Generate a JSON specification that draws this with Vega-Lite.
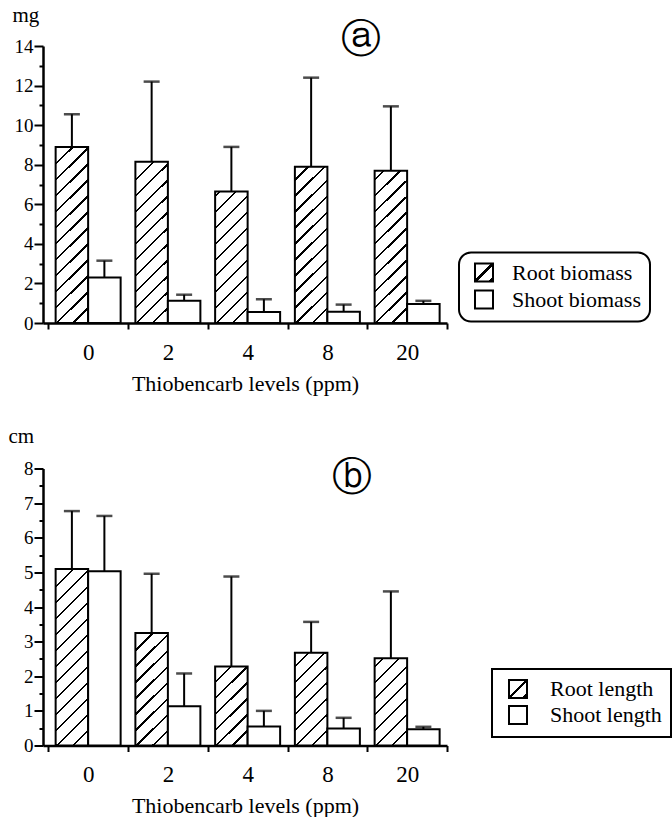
{
  "$schema": "https://vega.github.io/schema/vega-lite/v6.json",
  "padding": {"left": 8, "top": 4, "right": 0, "bottom": 0},
  "spacing": 30.5,
  "background": "white",
  "datasets": {
    "a": [
      {"level": "0", "series": "Root biomass", "mean": 8.9, "upper": 10.55},
      {"level": "0", "series": "Shoot biomass", "mean": 2.3, "upper": 3.15},
      {"level": "2", "series": "Root biomass", "mean": 8.15, "upper": 12.2},
      {"level": "2", "series": "Shoot biomass", "mean": 1.13, "upper": 1.43},
      {"level": "4", "series": "Root biomass", "mean": 6.65, "upper": 8.9},
      {"level": "4", "series": "Shoot biomass", "mean": 0.55, "upper": 1.2},
      {"level": "8", "series": "Root biomass", "mean": 7.9, "upper": 12.4},
      {"level": "8", "series": "Shoot biomass", "mean": 0.57, "upper": 0.93},
      {"level": "20", "series": "Root biomass", "mean": 7.7, "upper": 10.95},
      {"level": "20", "series": "Shoot biomass", "mean": 0.96, "upper": 1.12}
    ],
    "b": [
      {"level": "0", "series": "Root length", "mean": 5.1, "upper": 6.77},
      {"level": "0", "series": "Shoot length", "mean": 5.03, "upper": 6.63},
      {"level": "2", "series": "Root length", "mean": 3.25, "upper": 4.96},
      {"level": "2", "series": "Shoot length", "mean": 1.13, "upper": 2.08},
      {"level": "4", "series": "Root length", "mean": 2.28, "upper": 4.88},
      {"level": "4", "series": "Shoot length", "mean": 0.55, "upper": 1.0},
      {"level": "8", "series": "Root length", "mean": 2.68, "upper": 3.57},
      {"level": "8", "series": "Shoot length", "mean": 0.49, "upper": 0.8},
      {"level": "20", "series": "Root length", "mean": 2.52, "upper": 4.45},
      {"level": "20", "series": "Shoot length", "mean": 0.47, "upper": 0.54}
    ]
  },
  "vconcat": [
    {
      "width": 404,
      "height": 277,
      "data": {"name": "a"},
      "encoding": {
        "xOffset": {"field": "series", "type": "nominal", "scale": {"domain": ["Root biomass", "Shoot biomass"], "paddingInner": 0, "paddingOuter": 0.227}},
        "y": {"field": "mean", "type": "quantitative", "scale": {"domain": [0, 14], "nice": false},
          "axis": {"values": [0,1,2,3,4,5,6,7,8,9,10,11,12,13,14], "labelExpr": "datum.value % 2 === 0 ? format(datum.value, 'd') : ''",
            "tickSize": {"condition": {"test": "datum.value % 2 !== 0", "value": 4}, "value": 9},
            "labelFontSize": 19, "labelPadding": 1, "title": "mg", "titleAngle": 0, "titleAlign": "left", "titleBaseline": "alphabetic", "titleX": -31, "titleY": -24.5, "titleFontSize": 21}}
      },
      "layer": [
        {
          "mark": {"type": "bar", "stroke": "black", "strokeWidth": 2},
          "encoding": {
            "x": {"field": "level", "type": "nominal", "scale": {"domain": ["0", "2", "4", "8", "20"], "paddingInner": 0, "paddingOuter": 0.033, "align": 1},
              "axis": {"title": "Thiobencarb levels (ppm)", "labelAngle": 0, "labelFontSize": 23, "labelPadding": 12, "tickBand": "extent", "tickSize": 6, "titleFontSize": 22, "titleBaseline": "alphabetic", "titleY": 67}},
            "fill": {"condition": [
              {"test": "datum.series === 'Root biomass' && datum.level === '0'", "value": {"gradient": "linear", "x1": 0, "y1": 0, "x2": 0.2079, "y2": 1.1439, "stops": [
                {"offset": 0, "color": "#fff"},
                {"offset": 0.0767, "color": "#fff"}, {"offset": 0.0767, "color": "#000"}, {"offset": 0.0877, "color": "#000"}, {"offset": 0.0877, "color": "#fff"},
                {"offset": 0.1536, "color": "#fff"}, {"offset": 0.1536, "color": "#000"}, {"offset": 0.1646, "color": "#000"}, {"offset": 0.1646, "color": "#fff"},
                {"offset": 0.2304, "color": "#fff"}, {"offset": 0.2304, "color": "#000"}, {"offset": 0.2414, "color": "#000"}, {"offset": 0.2414, "color": "#fff"},
                {"offset": 0.3073, "color": "#fff"}, {"offset": 0.3073, "color": "#000"}, {"offset": 0.3183, "color": "#000"}, {"offset": 0.3183, "color": "#fff"},
                {"offset": 0.3842, "color": "#fff"}, {"offset": 0.3842, "color": "#000"}, {"offset": 0.3952, "color": "#000"}, {"offset": 0.3952, "color": "#fff"},
                {"offset": 0.4611, "color": "#fff"}, {"offset": 0.4611, "color": "#000"}, {"offset": 0.4721, "color": "#000"}, {"offset": 0.4721, "color": "#fff"},
                {"offset": 0.538, "color": "#fff"}, {"offset": 0.538, "color": "#000"}, {"offset": 0.549, "color": "#000"}, {"offset": 0.549, "color": "#fff"},
                {"offset": 0.6149, "color": "#fff"}, {"offset": 0.6149, "color": "#000"}, {"offset": 0.6259, "color": "#000"}, {"offset": 0.6259, "color": "#fff"},
                {"offset": 0.6918, "color": "#fff"}, {"offset": 0.6918, "color": "#000"}, {"offset": 0.7028, "color": "#000"}, {"offset": 0.7028, "color": "#fff"},
                {"offset": 0.7686, "color": "#fff"}, {"offset": 0.7686, "color": "#000"}, {"offset": 0.7796, "color": "#000"}, {"offset": 0.7796, "color": "#fff"},
                {"offset": 0.8455, "color": "#fff"}, {"offset": 0.8455, "color": "#000"}, {"offset": 0.8565, "color": "#000"}, {"offset": 0.8565, "color": "#fff"},
                {"offset": 0.9224, "color": "#fff"}, {"offset": 0.9224, "color": "#000"}, {"offset": 0.9334, "color": "#000"}, {"offset": 0.9334, "color": "#fff"},
                {"offset": 1, "color": "#fff"}]}},
              {"test": "datum.series === 'Root biomass' && datum.level === '2'", "value": {"gradient": "linear", "x1": 0, "y1": 0, "x2": 0.2287, "y2": 1.153, "stops": [
                {"offset": 0, "color": "#fff"},
                {"offset": 0.0887, "color": "#fff"}, {"offset": 0.0887, "color": "#000"}, {"offset": 0.1007, "color": "#000"}, {"offset": 0.1007, "color": "#fff"},
                {"offset": 0.1714, "color": "#fff"}, {"offset": 0.1714, "color": "#000"}, {"offset": 0.1834, "color": "#000"}, {"offset": 0.1834, "color": "#fff"},
                {"offset": 0.2542, "color": "#fff"}, {"offset": 0.2542, "color": "#000"}, {"offset": 0.2662, "color": "#000"}, {"offset": 0.2662, "color": "#fff"},
                {"offset": 0.337, "color": "#fff"}, {"offset": 0.337, "color": "#000"}, {"offset": 0.349, "color": "#000"}, {"offset": 0.349, "color": "#fff"},
                {"offset": 0.4198, "color": "#fff"}, {"offset": 0.4198, "color": "#000"}, {"offset": 0.4318, "color": "#000"}, {"offset": 0.4318, "color": "#fff"},
                {"offset": 0.5025, "color": "#fff"}, {"offset": 0.5025, "color": "#000"}, {"offset": 0.5145, "color": "#000"}, {"offset": 0.5145, "color": "#fff"},
                {"offset": 0.5853, "color": "#fff"}, {"offset": 0.5853, "color": "#000"}, {"offset": 0.5973, "color": "#000"}, {"offset": 0.5973, "color": "#fff"},
                {"offset": 0.6681, "color": "#fff"}, {"offset": 0.6681, "color": "#000"}, {"offset": 0.6801, "color": "#000"}, {"offset": 0.6801, "color": "#fff"},
                {"offset": 0.7509, "color": "#fff"}, {"offset": 0.7509, "color": "#000"}, {"offset": 0.7629, "color": "#000"}, {"offset": 0.7629, "color": "#fff"},
                {"offset": 0.8336, "color": "#fff"}, {"offset": 0.8336, "color": "#000"}, {"offset": 0.8456, "color": "#000"}, {"offset": 0.8456, "color": "#fff"},
                {"offset": 0.9164, "color": "#fff"}, {"offset": 0.9164, "color": "#000"}, {"offset": 0.9284, "color": "#000"}, {"offset": 0.9284, "color": "#fff"},
                {"offset": 1, "color": "#fff"}]}},
              {"test": "datum.series === 'Root biomass' && datum.level === '4'", "value": {"gradient": "linear", "x1": 0, "y1": 0, "x2": 0.2854, "y2": 1.1738, "stops": [
                {"offset": 0, "color": "#fff"},
                {"offset": 0.0211, "color": "#fff"}, {"offset": 0.0211, "color": "#000"}, {"offset": 0.0351, "color": "#000"}, {"offset": 0.0351, "color": "#fff"},
                {"offset": 0.1189, "color": "#fff"}, {"offset": 0.1189, "color": "#000"}, {"offset": 0.1329, "color": "#000"}, {"offset": 0.1329, "color": "#fff"},
                {"offset": 0.2167, "color": "#fff"}, {"offset": 0.2167, "color": "#000"}, {"offset": 0.2307, "color": "#000"}, {"offset": 0.2307, "color": "#fff"},
                {"offset": 0.3145, "color": "#fff"}, {"offset": 0.3145, "color": "#000"}, {"offset": 0.3285, "color": "#000"}, {"offset": 0.3285, "color": "#fff"},
                {"offset": 0.4123, "color": "#fff"}, {"offset": 0.4123, "color": "#000"}, {"offset": 0.4263, "color": "#000"}, {"offset": 0.4263, "color": "#fff"},
                {"offset": 0.5101, "color": "#fff"}, {"offset": 0.5101, "color": "#000"}, {"offset": 0.5241, "color": "#000"}, {"offset": 0.5241, "color": "#fff"},
                {"offset": 0.6079, "color": "#fff"}, {"offset": 0.6079, "color": "#000"}, {"offset": 0.6219, "color": "#000"}, {"offset": 0.6219, "color": "#fff"},
                {"offset": 0.7057, "color": "#fff"}, {"offset": 0.7057, "color": "#000"}, {"offset": 0.7197, "color": "#000"}, {"offset": 0.7197, "color": "#fff"},
                {"offset": 0.8035, "color": "#fff"}, {"offset": 0.8035, "color": "#000"}, {"offset": 0.8175, "color": "#000"}, {"offset": 0.8175, "color": "#fff"},
                {"offset": 0.9013, "color": "#fff"}, {"offset": 0.9013, "color": "#000"}, {"offset": 0.9153, "color": "#000"}, {"offset": 0.9153, "color": "#fff"},
                {"offset": 1, "color": "#fff"}]}},
              {"test": "datum.series === 'Root biomass' && datum.level === '8'", "value": {"gradient": "linear", "x1": 0, "y1": 0, "x2": 0.2367, "y2": 1.1563, "stops": [
                {"offset": 0, "color": "#fff"},
                {"offset": 0.0645, "color": "#fff"}, {"offset": 0.0645, "color": "#000"}, {"offset": 0.0767, "color": "#000"}, {"offset": 0.0767, "color": "#fff"},
                {"offset": 0.1495, "color": "#fff"}, {"offset": 0.1495, "color": "#000"}, {"offset": 0.1617, "color": "#000"}, {"offset": 0.1617, "color": "#fff"},
                {"offset": 0.2345, "color": "#fff"}, {"offset": 0.2345, "color": "#000"}, {"offset": 0.2467, "color": "#000"}, {"offset": 0.2467, "color": "#fff"},
                {"offset": 0.3194, "color": "#fff"}, {"offset": 0.3194, "color": "#000"}, {"offset": 0.3316, "color": "#000"}, {"offset": 0.3316, "color": "#fff"},
                {"offset": 0.4044, "color": "#fff"}, {"offset": 0.4044, "color": "#000"}, {"offset": 0.4166, "color": "#000"}, {"offset": 0.4166, "color": "#fff"},
                {"offset": 0.4894, "color": "#fff"}, {"offset": 0.4894, "color": "#000"}, {"offset": 0.5016, "color": "#000"}, {"offset": 0.5016, "color": "#fff"},
                {"offset": 0.5744, "color": "#fff"}, {"offset": 0.5744, "color": "#000"}, {"offset": 0.5866, "color": "#000"}, {"offset": 0.5866, "color": "#fff"},
                {"offset": 0.6593, "color": "#fff"}, {"offset": 0.6593, "color": "#000"}, {"offset": 0.6715, "color": "#000"}, {"offset": 0.6715, "color": "#fff"},
                {"offset": 0.7443, "color": "#fff"}, {"offset": 0.7443, "color": "#000"}, {"offset": 0.7565, "color": "#000"}, {"offset": 0.7565, "color": "#fff"},
                {"offset": 0.8293, "color": "#fff"}, {"offset": 0.8293, "color": "#000"}, {"offset": 0.8415, "color": "#000"}, {"offset": 0.8415, "color": "#fff"},
                {"offset": 0.9142, "color": "#fff"}, {"offset": 0.9142, "color": "#000"}, {"offset": 0.9264, "color": "#000"}, {"offset": 0.9264, "color": "#fff"},
                {"offset": 1, "color": "#fff"}]}},
              {"test": "datum.series === 'Root biomass' && datum.level === '20'", "value": {"gradient": "linear", "x1": 0, "y1": 0, "x2": 0.2433, "y2": 1.1589, "stops": [
                {"offset": 0, "color": "#fff"},
                {"offset": 0.0448, "color": "#fff"}, {"offset": 0.0448, "color": "#000"}, {"offset": 0.0572, "color": "#000"}, {"offset": 0.0572, "color": "#fff"},
                {"offset": 0.1315, "color": "#fff"}, {"offset": 0.1315, "color": "#000"}, {"offset": 0.1439, "color": "#000"}, {"offset": 0.1439, "color": "#fff"},
                {"offset": 0.2183, "color": "#fff"}, {"offset": 0.2183, "color": "#000"}, {"offset": 0.2307, "color": "#000"}, {"offset": 0.2307, "color": "#fff"},
                {"offset": 0.3051, "color": "#fff"}, {"offset": 0.3051, "color": "#000"}, {"offset": 0.3175, "color": "#000"}, {"offset": 0.3175, "color": "#fff"},
                {"offset": 0.3918, "color": "#fff"}, {"offset": 0.3918, "color": "#000"}, {"offset": 0.4042, "color": "#000"}, {"offset": 0.4042, "color": "#fff"},
                {"offset": 0.4786, "color": "#fff"}, {"offset": 0.4786, "color": "#000"}, {"offset": 0.491, "color": "#000"}, {"offset": 0.491, "color": "#fff"},
                {"offset": 0.5654, "color": "#fff"}, {"offset": 0.5654, "color": "#000"}, {"offset": 0.5778, "color": "#000"}, {"offset": 0.5778, "color": "#fff"},
                {"offset": 0.6522, "color": "#fff"}, {"offset": 0.6522, "color": "#000"}, {"offset": 0.6646, "color": "#000"}, {"offset": 0.6646, "color": "#fff"},
                {"offset": 0.7389, "color": "#fff"}, {"offset": 0.7389, "color": "#000"}, {"offset": 0.7513, "color": "#000"}, {"offset": 0.7513, "color": "#fff"},
                {"offset": 0.8257, "color": "#fff"}, {"offset": 0.8257, "color": "#000"}, {"offset": 0.8381, "color": "#000"}, {"offset": 0.8381, "color": "#fff"},
                {"offset": 0.9125, "color": "#fff"}, {"offset": 0.9125, "color": "#000"}, {"offset": 0.9249, "color": "#000"}, {"offset": 0.9249, "color": "#fff"},
                {"offset": 1, "color": "#fff"}]}}
            ],
              "field": "series", "type": "nominal",
              "scale": {"domain": ["Root biomass", "Shoot biomass"], "range": [{"expr": "{gradient: 'linear', x1: 0, y1: 0, x2: 1, y2: 1, stops: [{offset: 0, color: '#fff'}, {offset: 0.45, color: '#fff'}, {offset: 0.45, color: '#000'}, {offset: 0.55, color: '#000'}, {offset: 0.55, color: '#fff'}, {offset: 0.86, color: '#fff'}, {offset: 0.86, color: '#000'}, {offset: 1, color: '#000'}]}"}, "white"]},
              "legend": {"title": null, "orient": "none", "legendX": 416, "legendY": 206.5, "symbolType": "square", "symbolSize": 324, "symbolStrokeWidth": 2, "symbolStrokeColor": "black", "symbolOffset": 5,
                "labelFontSize": 22, "labelColor": "black", "labelOffset": 17, "padding": 9, "rowPadding": 1,
                "strokeColor": "black", "cornerRadius": 12,
                "encode": {"legend": {"update": {"strokeWidth": {"value": 2}}}}}
            }
          }
        },
        {
          "mark": {"type": "rule", "color": "black", "strokeWidth": 2},
          "encoding": {
            "x": {"field": "level", "type": "nominal", "axis": null},
            "y2": {"field": "upper"}
          }
        },
        {
          "mark": {"type": "tick", "color": "black", "thickness": 2.5, "size": 16},
          "encoding": {
            "x": {"field": "level", "type": "nominal",
              "axis": {"orient": "top", "domain": false, "ticks": false, "labels": false, "title": "ⓐ", "titleFont": "DejaVu Sans", "titleFontSize": 40, "titleFontWeight": "normal", "titleAngle": 0, "titleAlign": "center", "titleBaseline": "middle", "titleX": 317, "titleY": -7}},
            "y": {"field": "upper", "type": "quantitative"}
          }
        }
      ],
      "resolve": {"axis": {"x": "independent"}}
    },
    {
      "width": 404,
      "height": 277,
      "data": {"name": "b"},
      "encoding": {
        "xOffset": {"field": "series", "type": "nominal", "scale": {"domain": ["Root length", "Shoot length"], "paddingInner": 0, "paddingOuter": 0.227}},
        "y": {"field": "mean", "type": "quantitative", "scale": {"domain": [0, 8], "nice": false},
          "axis": {"values": [0,0.5,1,1.5,2,2.5,3,3.5,4,4.5,5,5.5,6,6.5,7,7.5,8], "labelExpr": "datum.value % 1 === 0 ? format(datum.value, 'd') : ''",
            "tickSize": {"condition": {"test": "datum.value % 1 !== 0", "value": 4}, "value": 9},
            "labelFontSize": 19, "labelPadding": 1, "title": "cm", "titleAngle": 0, "titleAlign": "left", "titleBaseline": "alphabetic", "titleX": -35, "titleY": -26.5, "titleFontSize": 21}}
      },
      "layer": [
        {
          "mark": {"type": "bar", "stroke": "black", "strokeWidth": 2},
          "encoding": {
            "x": {"field": "level", "type": "nominal", "scale": {"domain": ["0", "2", "4", "8", "20"], "paddingInner": 0, "paddingOuter": 0.033, "align": 1},
              "axis": {"title": "Thiobencarb levels (ppm)", "labelAngle": 0, "labelFontSize": 23, "labelPadding": 12, "tickBand": "extent", "tickSize": 6, "titleFontSize": 22, "titleBaseline": "alphabetic", "titleY": 67}},
            "fill": {"condition": [
              {"test": "datum.series === 'Root length' && datum.level === '0'", "value": {"gradient": "linear", "x1": 0, "y1": 0, "x2": 0.2072, "y2": 1.1436, "stops": [
                {"offset": 0, "color": "#fff"},
                {"offset": 0.0789, "color": "#fff"}, {"offset": 0.0789, "color": "#000"}, {"offset": 0.0899, "color": "#000"}, {"offset": 0.0899, "color": "#fff"},
                {"offset": 0.1556, "color": "#fff"}, {"offset": 0.1556, "color": "#000"}, {"offset": 0.1666, "color": "#000"}, {"offset": 0.1666, "color": "#fff"},
                {"offset": 0.2323, "color": "#fff"}, {"offset": 0.2323, "color": "#000"}, {"offset": 0.2433, "color": "#000"}, {"offset": 0.2433, "color": "#fff"},
                {"offset": 0.309, "color": "#fff"}, {"offset": 0.309, "color": "#000"}, {"offset": 0.32, "color": "#000"}, {"offset": 0.32, "color": "#fff"},
                {"offset": 0.3857, "color": "#fff"}, {"offset": 0.3857, "color": "#000"}, {"offset": 0.3967, "color": "#000"}, {"offset": 0.3967, "color": "#fff"},
                {"offset": 0.4624, "color": "#fff"}, {"offset": 0.4624, "color": "#000"}, {"offset": 0.4734, "color": "#000"}, {"offset": 0.4734, "color": "#fff"},
                {"offset": 0.5391, "color": "#fff"}, {"offset": 0.5391, "color": "#000"}, {"offset": 0.5501, "color": "#000"}, {"offset": 0.5501, "color": "#fff"},
                {"offset": 0.6158, "color": "#fff"}, {"offset": 0.6158, "color": "#000"}, {"offset": 0.6268, "color": "#000"}, {"offset": 0.6268, "color": "#fff"},
                {"offset": 0.6925, "color": "#fff"}, {"offset": 0.6925, "color": "#000"}, {"offset": 0.7035, "color": "#000"}, {"offset": 0.7035, "color": "#fff"},
                {"offset": 0.7692, "color": "#fff"}, {"offset": 0.7692, "color": "#000"}, {"offset": 0.7802, "color": "#000"}, {"offset": 0.7802, "color": "#fff"},
                {"offset": 0.8459, "color": "#fff"}, {"offset": 0.8459, "color": "#000"}, {"offset": 0.8569, "color": "#000"}, {"offset": 0.8569, "color": "#fff"},
                {"offset": 0.9226, "color": "#fff"}, {"offset": 0.9226, "color": "#000"}, {"offset": 0.9336, "color": "#000"}, {"offset": 0.9336, "color": "#fff"},
                {"offset": 1, "color": "#fff"}]}},
              {"test": "datum.series === 'Root length' && datum.level === '2'", "value": {"gradient": "linear", "x1": 0, "y1": 0, "x2": 0.338, "y2": 1.1883, "stops": [
                {"offset": 0, "color": "#fff"},
                {"offset": 0.1131, "color": "#fff"}, {"offset": 0.1131, "color": "#000"}, {"offset": 0.1291, "color": "#000"}, {"offset": 0.1291, "color": "#fff"},
                {"offset": 0.2238, "color": "#fff"}, {"offset": 0.2238, "color": "#000"}, {"offset": 0.2398, "color": "#000"}, {"offset": 0.2398, "color": "#fff"},
                {"offset": 0.3346, "color": "#fff"}, {"offset": 0.3346, "color": "#000"}, {"offset": 0.3506, "color": "#000"}, {"offset": 0.3506, "color": "#fff"},
                {"offset": 0.4453, "color": "#fff"}, {"offset": 0.4453, "color": "#000"}, {"offset": 0.4613, "color": "#000"}, {"offset": 0.4613, "color": "#fff"},
                {"offset": 0.556, "color": "#fff"}, {"offset": 0.556, "color": "#000"}, {"offset": 0.572, "color": "#000"}, {"offset": 0.572, "color": "#fff"},
                {"offset": 0.6667, "color": "#fff"}, {"offset": 0.6667, "color": "#000"}, {"offset": 0.6827, "color": "#000"}, {"offset": 0.6827, "color": "#fff"},
                {"offset": 0.7775, "color": "#fff"}, {"offset": 0.7775, "color": "#000"}, {"offset": 0.7935, "color": "#000"}, {"offset": 0.7935, "color": "#fff"},
                {"offset": 0.8882, "color": "#fff"}, {"offset": 0.8882, "color": "#000"}, {"offset": 0.9042, "color": "#000"}, {"offset": 0.9042, "color": "#fff"},
                {"offset": 1, "color": "#fff"}]}},
              {"test": "datum.series === 'Root length' && datum.level === '4'", "value": {"gradient": "linear", "x1": 0, "y1": 0, "x2": 0.4895, "y2": 1.207, "stops": [
                {"offset": 0, "color": "#fff"},
                {"offset": 0.133, "color": "#fff"}, {"offset": 0.133, "color": "#000"}, {"offset": 0.1538, "color": "#000"}, {"offset": 0.1538, "color": "#fff"},
                {"offset": 0.2772, "color": "#fff"}, {"offset": 0.2772, "color": "#000"}, {"offset": 0.298, "color": "#000"}, {"offset": 0.298, "color": "#fff"},
                {"offset": 0.4215, "color": "#fff"}, {"offset": 0.4215, "color": "#000"}, {"offset": 0.4423, "color": "#000"}, {"offset": 0.4423, "color": "#fff"},
                {"offset": 0.5658, "color": "#fff"}, {"offset": 0.5658, "color": "#000"}, {"offset": 0.5866, "color": "#000"}, {"offset": 0.5866, "color": "#fff"},
                {"offset": 0.7101, "color": "#fff"}, {"offset": 0.7101, "color": "#000"}, {"offset": 0.7309, "color": "#000"}, {"offset": 0.7309, "color": "#fff"},
                {"offset": 0.8543, "color": "#fff"}, {"offset": 0.8543, "color": "#000"}, {"offset": 0.8751, "color": "#000"}, {"offset": 0.8751, "color": "#fff"},
                {"offset": 1, "color": "#fff"}]}},
              {"test": "datum.series === 'Root length' && datum.level === '8'", "value": {"gradient": "linear", "x1": 0, "y1": 0, "x2": 0.4145, "y2": 1.2019, "stops": [
                {"offset": 0, "color": "#fff"},
                {"offset": 0.1014, "color": "#fff"}, {"offset": 0.1014, "color": "#000"}, {"offset": 0.1198, "color": "#000"}, {"offset": 0.1198, "color": "#fff"},
                {"offset": 0.2296, "color": "#fff"}, {"offset": 0.2296, "color": "#000"}, {"offset": 0.248, "color": "#000"}, {"offset": 0.248, "color": "#fff"},
                {"offset": 0.3578, "color": "#fff"}, {"offset": 0.3578, "color": "#000"}, {"offset": 0.3762, "color": "#000"}, {"offset": 0.3762, "color": "#fff"},
                {"offset": 0.486, "color": "#fff"}, {"offset": 0.486, "color": "#000"}, {"offset": 0.5044, "color": "#000"}, {"offset": 0.5044, "color": "#fff"},
                {"offset": 0.6142, "color": "#fff"}, {"offset": 0.6142, "color": "#000"}, {"offset": 0.6326, "color": "#000"}, {"offset": 0.6326, "color": "#fff"},
                {"offset": 0.7424, "color": "#fff"}, {"offset": 0.7424, "color": "#000"}, {"offset": 0.7608, "color": "#000"}, {"offset": 0.7608, "color": "#fff"},
                {"offset": 0.8706, "color": "#fff"}, {"offset": 0.8706, "color": "#000"}, {"offset": 0.889, "color": "#000"}, {"offset": 0.889, "color": "#fff"},
                {"offset": 1, "color": "#fff"}]}},
              {"test": "datum.series === 'Root length' && datum.level === '20'", "value": {"gradient": "linear", "x1": 0, "y1": 0, "x2": 0.4416, "y2": 1.2047, "stops": [
                {"offset": 0, "color": "#fff"},
                {"offset": 0.06, "color": "#fff"}, {"offset": 0.06, "color": "#000"}, {"offset": 0.0792, "color": "#000"}, {"offset": 0.0792, "color": "#fff"},
                {"offset": 0.1941, "color": "#fff"}, {"offset": 0.1941, "color": "#000"}, {"offset": 0.2133, "color": "#000"}, {"offset": 0.2133, "color": "#fff"},
                {"offset": 0.3282, "color": "#fff"}, {"offset": 0.3282, "color": "#000"}, {"offset": 0.3474, "color": "#000"}, {"offset": 0.3474, "color": "#fff"},
                {"offset": 0.4623, "color": "#fff"}, {"offset": 0.4623, "color": "#000"}, {"offset": 0.4815, "color": "#000"}, {"offset": 0.4815, "color": "#fff"},
                {"offset": 0.5964, "color": "#fff"}, {"offset": 0.5964, "color": "#000"}, {"offset": 0.6156, "color": "#000"}, {"offset": 0.6156, "color": "#fff"},
                {"offset": 0.7306, "color": "#fff"}, {"offset": 0.7306, "color": "#000"}, {"offset": 0.7498, "color": "#000"}, {"offset": 0.7498, "color": "#fff"},
                {"offset": 0.8647, "color": "#fff"}, {"offset": 0.8647, "color": "#000"}, {"offset": 0.8839, "color": "#000"}, {"offset": 0.8839, "color": "#fff"},
                {"offset": 1, "color": "#fff"}]}}
            ],
              "field": "series", "type": "nominal",
              "scale": {"domain": ["Root length", "Shoot length"], "range": [{"expr": "{gradient: 'linear', x1: 0, y1: 0, x2: 1, y2: 1, stops: [{offset: 0, color: '#fff'}, {offset: 0.45, color: '#fff'}, {offset: 0.45, color: '#000'}, {offset: 0.55, color: '#000'}, {offset: 0.55, color: '#fff'}, {offset: 0.86, color: '#fff'}, {offset: 0.86, color: '#000'}, {offset: 1, color: '#000'}]}"}, "white"]},
              "legend": {"title": null, "orient": "none", "legendX": 449, "legendY": 200.5, "symbolType": "square", "symbolSize": 324, "symbolStrokeWidth": 2, "symbolStrokeColor": "black", "symbolOffset": 6,
                "labelFontSize": 22, "labelColor": "black", "labelOffset": 21, "padding": 9, "rowPadding": 0,
                "strokeColor": "black", "cornerRadius": 0,
                "encode": {"legend": {"update": {"strokeWidth": {"value": 2}}}}}
            }
          }
        },
        {
          "mark": {"type": "rule", "color": "black", "strokeWidth": 2},
          "encoding": {
            "x": {"field": "level", "type": "nominal", "axis": null},
            "y2": {"field": "upper"}
          }
        },
        {
          "mark": {"type": "tick", "color": "black", "thickness": 2.5, "size": 16},
          "encoding": {
            "x": {"field": "level", "type": "nominal",
              "axis": {"orient": "top", "domain": false, "ticks": false, "labels": false, "title": "ⓑ", "titleFont": "DejaVu Sans", "titleFontSize": 40, "titleFontWeight": "normal", "titleAngle": 0, "titleAlign": "center", "titleBaseline": "middle", "titleX": 308, "titleY": 9}},
            "y": {"field": "upper", "type": "quantitative"}
          }
        }
      ],
      "resolve": {"axis": {"x": "independent"}}
    }
  ],
  "resolve": {"scale": {"x": "independent", "y": "independent", "xOffset": "independent", "fill": "independent"}, "legend": {"fill": "independent"}},
  "config": {
    "view": {"stroke": null},
    "font": "Liberation Serif, Times New Roman, DejaVu Serif, serif",
    "axis": {"grid": false, "domainColor": "black", "domainWidth": 2.5, "tickColor": "black", "tickWidth": 2, "labelColor": "black", "titleColor": "black", "labelFont": "Liberation Serif, Times New Roman, DejaVu Serif, serif", "titleFont": "Liberation Serif, Times New Roman, DejaVu Serif, serif", "titleFontWeight": "normal"},
    "legend": {"labelFont": "Liberation Serif, Times New Roman, DejaVu Serif, serif"}
  }
}
